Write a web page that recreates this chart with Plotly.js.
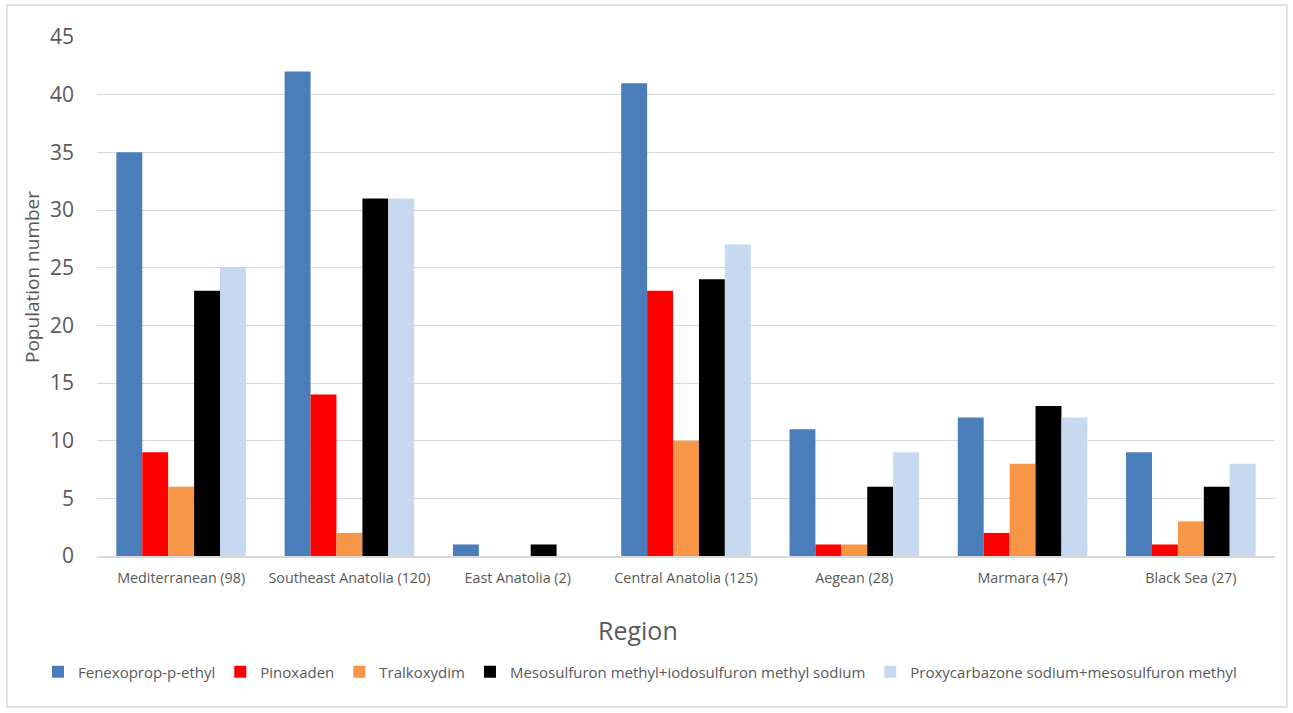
<!DOCTYPE html>
<html>
<head>
<meta charset="utf-8">
<script src="https://cdn.plot.ly/plotly-3.0.1.min.js"></script>
<style>
html,body{margin:0;padding:0;background:#fff;}
#chart{width:1293px;height:713px;}
</style>
</head>
<body>
<div id="chart"></div>
<script>
const regions = ["Mediterranean (98)", "Southeast Anatolia (120)", "East Anatolia (2)", "Central Anatolia (125)", "Aegean (28)", "Marmara (47)", "Black Sea (27)"];
const fenexoprop = [35, 42, 1, 41, 11, 12, 9];
const pinoxaden = [9, 14, 0, 23, 1, 2, 1];
const tralkoxydim = [6, 2, 0, 10, 1, 8, 3];
const mesosulfuron = [23, 31, 1, 24, 6, 13, 6];
const proxycarbazone = [25, 31, 0, 27, 9, 12, 8];
const seriesNames = ["Fenexoprop-p-ethyl", "Pinoxaden", "Tralkoxydim", "Mesosulfuron methyl+iodosulfuron methyl sodium", "Proxycarbazone sodium+mesosulfuron methyl"];
const seriesValues = [fenexoprop, pinoxaden, tralkoxydim, mesosulfuron, proxycarbazone];
const colors = ["#4A7EBB", "#FF0000", "#F79646", "#000000", "#C6D9F0"];

const FONT = "'Open Sans', Lato, 'Liberation Sans', sans-serif";
const traces = seriesNames.map((n, i) => ({
  type: "bar", name: n, x: regions, y: seriesValues[i],
  marker: {color: colors[i], line: {width: 0}}
}));

const L = 97, R = 18, T = 37, B = 157, W = 1293, H = 713;
const pw = W - L - R, ph = H - T - B;
const px = v => (v - L) / pw;
const py = v => (H - B - v) / ph;

const layout = {
  width: W, height: H,
  margin: {l: L, r: R, t: T, b: B},
  paper_bgcolor: "#ffffff", plot_bgcolor: "#ffffff",
  font: {family: FONT, color: "#595959"},
  barmode: "group", bargap: 0.23, bargroupgap: 0,
  showlegend: true,
  legend: {orientation: "h", x: px(38), xanchor: "left", y: py(672), yanchor: "middle",
           font: {size: 15, color: "#595959", family: FONT}, itemwidth: 30, tracegroupgap: 0},
  xaxis: {type: "category", showgrid: false, showline: true, linecolor: "#D9D9D9", linewidth: 1.5,
          ticks: "", ticklabelstandoff: 8, tickfont: {size: 14.3, color: "#595959"}, fixedrange: true},
  yaxis: {range: [0, 45], dtick: 5, tick0: 0, showgrid: true, gridcolor: "#D9D9D9", gridwidth: 1,
          zeroline: false, showline: false, ticks: "", ticklabelstandoff: 22,
          tickfont: {size: 21, color: "#595959"}, fixedrange: true},
  annotations: [
    {text: "Population number", xref: "paper", yref: "paper", x: px(32), y: py(277), textangle: -90,
     showarrow: false, font: {size: 19, color: "#595959", family: FONT}, xanchor: "center", yanchor: "middle"},
    {text: "Region", xref: "paper", yref: "paper", x: px(638), y: py(630),
     showarrow: false, font: {size: 25, color: "#595959", family: FONT}, xanchor: "center", yanchor: "middle"}
  ],
  shapes: [
    {type: "rect", xref: "paper", yref: "paper", x0: px(7), x1: px(1287), y0: py(707), y1: py(5),
     line: {color: "#D9D9D9", width: 1.5}, fillcolor: "rgba(0,0,0,0)", layer: "below"}
  ]
};

Plotly.newPlot("chart", traces, layout, {displayModeBar: false, staticPlot: true});
</script>
</body>
</html>
